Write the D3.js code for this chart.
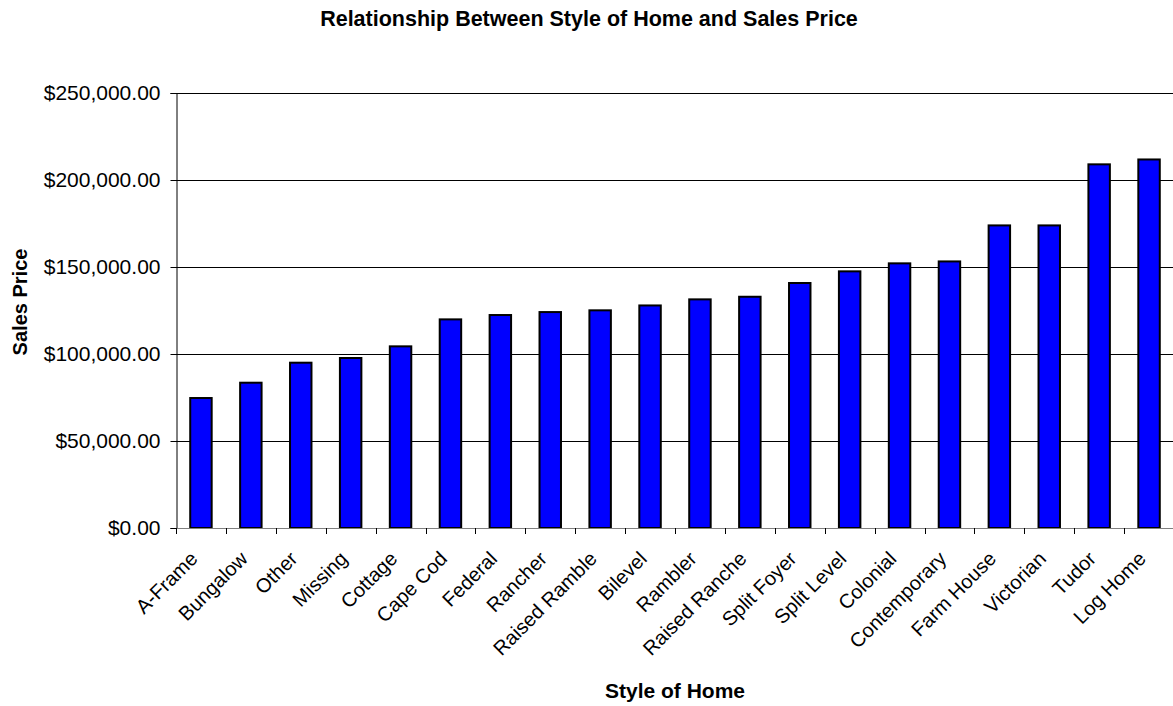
<!DOCTYPE html>
<html>
<head>
<meta charset="utf-8">
<script src="https://cdn.jsdelivr.net/npm/d3@7"></script>
<style>
  html, body { margin: 0; padding: 0; background: #fff; }
  svg { display: block; font-family: "Liberation Sans", Arial, sans-serif; }
</style>
</head>
<body>
<svg id="chart" width="1173" height="706"></svg>
<script>
// Average sales price by style of home, sorted ascending
const styles = ["A-Frame", "Bungalow", "Other", "Missing", "Cottage", "Cape Cod", "Federal",
  "Rancher", "Raised Ramble", "Bilevel", "Rambler", "Raised Ranche", "Split Foyer",
  "Split Level", "Colonial", "Contemporary", "Farm House", "Victorian", "Tudor", "Log Home"];
const prices = [74700, 83500, 95000, 97700, 104400, 119900, 122400,
  124100, 125100, 127900, 131400, 132900, 140800,
  147500, 152100, 153200, 173900, 173900, 209000, 211800];
const yTicks = [0, 50000, 100000, 150000, 200000, 250000];

const titleText = "Relationship Between Style of Home and Sales Price";
const xTitle = "Style of Home";
const yTitle = "Sales Price";

const svg = d3.select("#chart");
const plot = { left: 176, right: 1174, top: 93, bottom: 528 };

const x = d3.scaleBand()
  .domain(styles)
  .range([plot.left, plot.right])
  .paddingInner(0.57)
  .paddingOuter(0.285);

const y = d3.scaleLinear()
  .domain([0, 250000])
  .range([plot.bottom, plot.top]);

const fmt = d3.format("$,.2f");

// horizontal gridlines
svg.append("g")
  .selectAll("line")
  .data(yTicks.filter(d => d > 0))
  .join("line")
  .attr("x1", plot.left).attr("x2", plot.right)
  .attr("y1", d => Math.round(y(d)) + 0.5).attr("y2", d => Math.round(y(d)) + 0.5)
  .attr("stroke", "#000").attr("stroke-width", 1);

// y axis
const yAxis = svg.append("g")
  .attr("transform", `translate(${plot.left + 0.5},0)`)
  .call(d3.axisLeft(y).tickValues(yTicks).tickFormat(fmt).tickSize(6).tickPadding(10));
yAxis.select(".domain").attr("stroke", "#000");
yAxis.selectAll(".tick line").attr("stroke", "#000");
yAxis.selectAll(".tick text")
  .attr("font-size", 21)
  .attr("fill", "#000")
  .style("font-family", "'Liberation Sans', Arial, sans-serif");

// bars
svg.append("g")
  .selectAll("rect")
  .data(styles.map((s, i) => ({ s, v: prices[i] })))
  .join("rect")
  .attr("x", d => x(d.s))
  .attr("y", d => y(d.v))
  .attr("width", x.bandwidth())
  .attr("height", d => y(0) - y(d.v))
  .attr("fill", "#0000ff")
  .attr("stroke", "#000")
  .attr("stroke-width", 2);

// x axis line and tick marks between categories
const xg = svg.append("g");
xg.append("line")
  .attr("x1", plot.left).attr("x2", plot.right)
  .attr("y1", plot.bottom + 0.5).attr("y2", plot.bottom + 0.5)
  .attr("stroke", "#808080").attr("stroke-width", 1);
const step = x.step();
xg.selectAll("line.tk")
  .data(d3.range(styles.length + 1))
  .join("line")
  .attr("class", "tk")
  .attr("x1", i => Math.round(plot.left + i * step) + 0.5)
  .attr("x2", i => Math.round(plot.left + i * step) + 0.5)
  .attr("y1", plot.bottom).attr("y2", plot.bottom + 6)
  .attr("stroke", "#000");

// rotated category labels
xg.selectAll("text")
  .data(styles)
  .join("text")
  .attr("transform", d => `translate(${x(d) + x.bandwidth() / 2 - 2},560) rotate(-45)`)
  .attr("text-anchor", "end")
  .attr("font-size", 20)
  .attr("fill", "#000")
  .text(d => d);

// titles
svg.append("text")
  .attr("x", 589).attr("y", 26)
  .attr("text-anchor", "middle")
  .attr("font-size", 21.5).attr("font-weight", "bold")
  .text(titleText);

svg.append("text")
  .attr("x", 675).attr("y", 698)
  .attr("text-anchor", "middle")
  .attr("font-size", 21).attr("font-weight", "bold")
  .text(xTitle);

svg.append("text")
  .attr("transform", "translate(27,302) rotate(-90)")
  .attr("text-anchor", "middle")
  .attr("font-size", 20).attr("font-weight", "bold")
  .text(yTitle);
</script>
</body>
</html>
